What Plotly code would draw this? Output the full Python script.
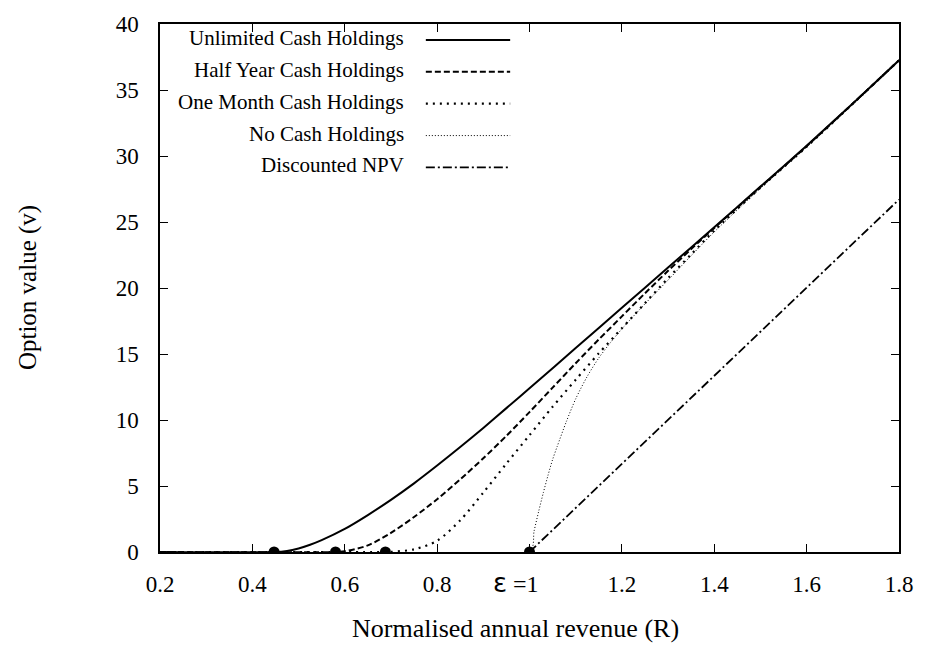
import plotly.graph_objects as go

# ---------------- data ----------------
R_unlimited = [0.2, 0.447, 0.475, 0.5, 0.525, 0.55, 0.6, 0.65, 0.7, 0.75, 0.8, 0.85, 0.9, 0.95,
               1.0, 1.1, 1.2, 1.3, 1.4, 1.5, 1.6, 1.7, 1.8]
v_unlimited = [0, 0, 0.08, 0.27, 0.55, 0.9, 1.75, 2.8, 3.95, 5.2, 6.55, 7.95, 9.4, 10.9,
               12.4, 15.45, 18.5, 21.55, 24.6, 27.68, 30.78, 33.98, 37.25]

R_halfyear = [0.2, 0.58, 0.6, 0.65, 0.7, 0.75, 0.8, 0.85, 0.9, 0.95, 1.0, 1.05, 1.1,
              1.15, 1.2, 1.25, 1.3, 1.35, 1.4, 1.5, 1.6, 1.7, 1.8]
v_halfyear = [0, 0, 0.06, 0.5, 1.45, 2.65, 4.0, 5.5, 7.1, 8.8, 10.6, 12.45, 14.3,
              16.1, 17.85, 19.6, 21.3, 22.95, 24.55, 27.65, 30.74, 33.97, 37.25]

R_onemonth = [0.2, 0.688, 0.7, 0.75, 0.8, 0.85, 0.9, 0.95, 1.0, 1.05, 1.1, 1.15, 1.2,
              1.25, 1.3, 1.35, 1.4, 1.5, 1.6, 1.7, 1.8]
v_onemonth = [0, 0, 0.01, 0.2, 0.85, 2.4, 4.5, 6.7, 8.85, 11.0, 13.05, 15.05, 16.95,
              18.85, 20.75, 22.55, 24.35, 27.6, 30.7, 33.96, 37.25]

R_nocash = [0.2, 1.0, 1.01, 1.02, 1.03, 1.04, 1.05, 1.06, 1.08, 1.1, 1.125, 1.15, 1.175,
            1.2, 1.25, 1.3, 1.35, 1.4, 1.5, 1.6, 1.7, 1.8]
v_nocash = [0, 0, 1.6, 3.1, 4.5, 5.8, 7.0, 8.0, 9.9, 11.6, 13.3, 14.7, 15.85,
            16.9, 18.8, 20.6, 22.45, 24.25, 27.55, 30.68, 33.95, 37.25]

R_npv = [1.0, 1.8]
v_npv = [0, 26.7]

R_thresholds = [0.447, 0.58, 0.688, 1.0]
v_thresholds = [0, 0, 0, 0]

x_ticks = [0.2, 0.4, 0.6, 0.8, 1.0, 1.2, 1.4, 1.6, 1.8]
x_ticktext = ["0.2", "0.4", "0.6", "0.8", "", "1.2", "1.4", "1.6", "1.8"]
y_ticks = [0, 5, 10, 15, 20, 25, 30, 35, 40]

legend_names = ["Unlimited Cash Holdings", "Half Year Cash Holdings",
                "One Month Cash Holdings", "No Cash Holdings", "Discounted NPV"]

# ---------------- styles ----------------
FONT = "Liberation Serif, Times New Roman, serif"
styles = [
    dict(color="black", width=2, dash="solid"),
    dict(color="black", width=2, dash="6px,3px"),
    dict(color="black", width=2.2, dash="2px,5px"),
    dict(color="black", width=1, dash="1px,2px"),
    dict(color="black", width=1.8, dash="9px,3px,2px,3px"),
]
series = [(R_unlimited, v_unlimited), (R_halfyear, v_halfyear),
          (R_onemonth, v_onemonth), (R_nocash, v_nocash), (R_npv, v_npv)]

fig = go.Figure()
for (xs, ys), st, name in zip(series, styles, legend_names):
    fig.add_trace(go.Scatter(x=xs, y=ys, mode="lines",
                             line=dict(shape="spline", smoothing=0.8, **st),
                             name=name, showlegend=False))

fig.add_trace(go.Scatter(x=R_thresholds, y=v_thresholds, mode="markers",
                         marker=dict(color="black", size=11), showlegend=False))

# gnuplot style key: right-aligned text, line sample on the right
L, Rm, T, B = 160, 20, 22, 102
W, H = 925, 654
pw, ph = W - L - Rm, H - T - B
def px2x(px):
    return (px - L) / pw
def py2y(py):
    return (H - B - py) / ph

row_y = [36, 68, 100, 132, 164]
shapes = []
annotations = []
for name, st, yy in zip(legend_names, styles, row_y):
    annotations.append(dict(x=px2x(408), y=py2y(yy), xref="paper", yref="paper",
                            text=name, showarrow=False, xanchor="right", yanchor="middle",
                            font=dict(family=FONT, size=21, color="black")))
    shapes.append(dict(type="line", xref="paper", yref="paper",
                       x0=px2x(428), x1=px2x(513), y0=py2y(yy + 2), y1=py2y(yy + 2),
                       line=st))

# special tick label at R = 1
annotations.append(dict(x=1.0, y=0, xref="x", yref="paper", xanchor="right", yanchor="top",
                        xshift=11, yshift=-14, showarrow=False,
                        text='<span style="font-family:DejaVu Sans;font-size:26px">ε</span> =1',
                        font=dict(family=FONT, size=24, color="black")))
# axis titles
annotations.append(dict(x=px2x(352), y=py2y(629), xref="paper", yref="paper", xanchor="left",
                        yanchor="middle", showarrow=False, text="Normalised annual revenue (R)",
                        font=dict(family=FONT, size=26, color="black")))
annotations.append(dict(x=px2x(27), y=0.5, xref="paper", yref="paper", xanchor="center",
                        yanchor="middle", showarrow=False, text="Option value (v)", textangle=-90,
                        font=dict(family=FONT, size=25, color="black")))

fig.update_layout(
    width=W, height=H,
    margin=dict(l=L, r=Rm, t=T, b=B),
    paper_bgcolor="white", plot_bgcolor="white",
    shapes=shapes, annotations=annotations,
    showlegend=False,
)
fig.update_xaxes(range=[0.2, 1.8], tickvals=x_ticks, ticktext=x_ticktext,
                 showgrid=False, zeroline=False, showline=True, linecolor="black", linewidth=1.5,
                 mirror="ticks", ticks="inside", ticklen=8, tickwidth=1, tickcolor="black",
                 ticklabelstandoff=11, tickfont=dict(family=FONT, size=23, color="black"))
fig.update_yaxes(range=[0, 40], tickvals=y_ticks,
                 showgrid=False, zeroline=False, showline=True, linecolor="black", linewidth=1.5,
                 mirror="ticks", ticks="inside", ticklen=8, tickwidth=1, tickcolor="black",
                 ticklabelstandoff=15, tickfont=dict(family=FONT, size=23, color="black"))

fig.write_html("out.html")
